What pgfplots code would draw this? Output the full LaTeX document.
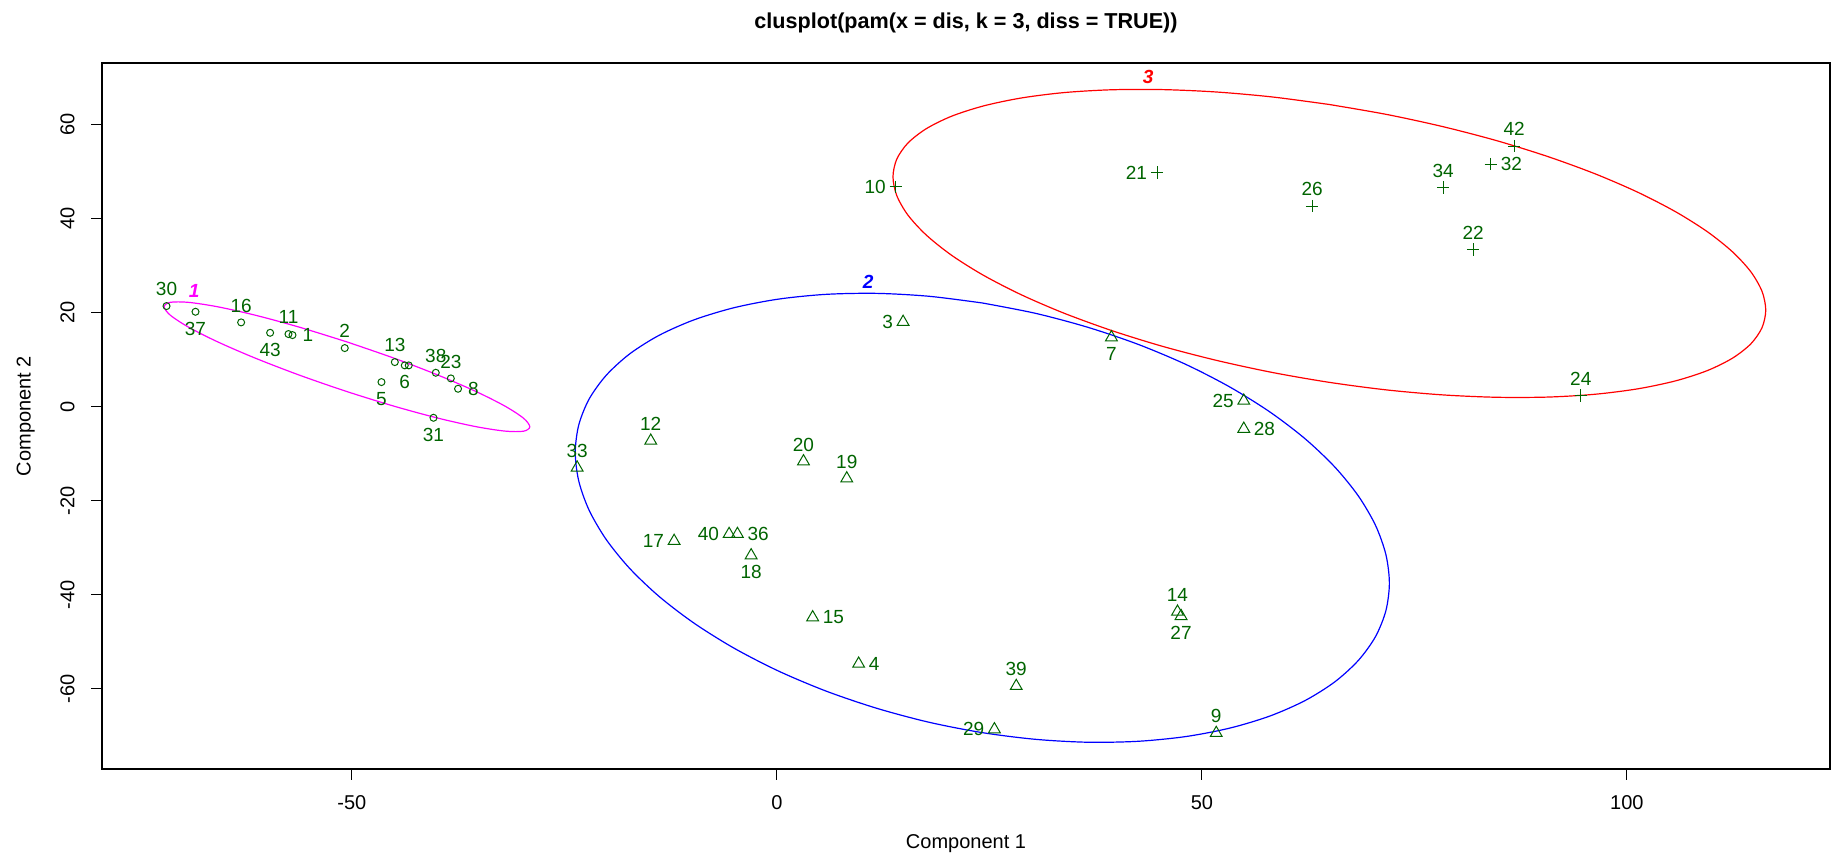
\documentclass[border=0pt]{standalone}
\usepackage{fontspec}
\setmainfont{Liberation Sans}
\usepackage{pgfplots}
\pgfplotsset{compat=1.18}
\definecolor{dkgreen}{HTML}{006400}
\definecolor{mag}{RGB}{255,0,255}
\definecolor{blu}{RGB}{0,0,255}
\definecolor{rd}{RGB}{255,0,0}
\newcommand\labfont{\fontsize{9.5}{11}\selectfont}
\pgfplotsset{
  lab/.style={only marks, dkgreen, mark options={line width=0.5pt},
    nodes near coords, point meta=explicit symbolic,
    every node near coord/.append style={anchor=#1, inner sep=4.8pt, font=\labfont, text=dkgreen}},
  cA/.style={mark=o, mark size=1.75pt},
  cB/.style={mark=triangle, mark size=3.4pt},
  cC/.style={mark=+, mark size=3.1pt},
  cnum/.style={only marks, mark=none, nodes near coords, point meta=explicit symbolic,
    every node near coord/.append style={anchor=center, inner sep=0pt, text=#1, font=\bfseries\itshape\labfont}},
}

\begin{document}
\begin{tikzpicture}
\begin{axis}[
  x=4.25pt, y=2.3515pt,
  xmin=-79.4, xmax=123.9, ymin=-77.1, ymax=73.1,
  axis line style={line width=0.8pt, black},
  tick pos=left, tick align=outside, major tick length=5.3pt,
  tick style={line width=0.6pt, black},
  xtick={-50,0,50,100}, ytick={-60,-40,-20,0,20,40,60},
  /pgf/number format/assume math mode=true,
  tick label style={font=\fontsize{10}{12}\selectfont},
  yticklabel style={xshift=-8.2pt, rotate=90, anchor=south, inner sep=0pt},
  xticklabel style={yshift=-7.8pt, anchor=north, inner sep=0pt},
  title={clusplot(pam(x = dis, k = 3, diss = TRUE))},
  title style={font=\bfseries\fontsize{10.8}{13}\selectfont, at={(axis description cs:0.5,1.0394)}, anchor=center, yshift=0pt},
  xlabel={Component 1}, ylabel={Component 2},
  label style={font=\fontsize{10}{12}\selectfont},
  xlabel style={at={(axis description cs:0.5,-0.1056)}, anchor=center},
  ylabel style={at={(axis description cs:-0.0442,0.5)}, anchor=center},
]
% ellipses
\addplot[mag, line width=0.6pt, smooth, mark=none] coordinates {
(-50.58,13.75) (-56.15,16.87) (-61.34,19.42) (-65.79,21.22) (-69.21,22.16) (-71.36,22.17) (-72.09,21.23) (-71.36,19.43) (-69.21,16.88) (-65.79,13.76) (-61.34,10.28) (-56.15,6.67) (-50.58,3.19) (-45.01,0.07) (-39.82,-2.48) (-35.37,-4.28) (-31.95,-5.22) (-29.80,-5.23) (-29.07,-4.29) (-29.80,-2.49) (-31.95,0.06) (-35.37,3.18) (-39.82,6.66) (-45.01,10.27) (-50.58,13.75)};
\addplot[blu, line width=0.6pt, smooth, mark=none] coordinates {
(24.17,22.03) (17.92,23.45) (11.78,24.07) (5.84,23.87) (0.22,22.86) (-4.98,21.05) (-9.69,18.48) (-13.82,15.19) (-17.30,11.23) (-20.07,6.67) (-22.09,1.60) (-23.31,-3.91) (-23.72,-9.75) (-23.31,-15.83) (-22.09,-22.04) (-20.07,-28.29) (-17.30,-34.45) (-13.82,-40.43) (-9.69,-46.12) (-4.98,-51.43) (0.22,-56.26) (5.84,-60.53) (11.78,-64.17) (17.92,-67.13) (24.17,-69.33) (30.42,-70.75) (36.56,-71.37) (42.50,-71.17) (48.12,-70.16) (53.32,-68.35) (58.03,-65.78) (62.16,-62.49) (65.64,-58.53) (68.41,-53.97) (70.43,-48.90) (71.65,-43.39) (72.06,-37.55) (71.65,-31.47) (70.43,-25.26) (68.41,-19.01) (65.64,-12.85) (62.16,-6.87) (58.03,-1.18) (53.32,4.13) (48.12,8.96) (42.50,13.23) (36.56,16.87) (30.42,19.83) (24.17,22.03)};
\addplot[rd, line width=0.6pt, smooth, mark=none] coordinates {
(65.00,64.23) (58.30,65.83) (51.71,66.89) (45.35,67.40) (39.33,67.36) (33.75,66.76) (28.70,65.60) (24.27,63.91) (20.54,61.73) (17.57,59.08) (15.41,56.03) (14.10,52.60) (13.66,48.86) (14.10,44.88) (15.41,40.73) (17.57,36.48) (20.54,32.19) (24.27,27.95) (28.70,23.82) (33.75,19.88) (39.33,16.20) (45.35,12.82) (51.71,9.83) (58.30,7.25) (65.00,5.15) (71.70,3.55) (78.29,2.49) (84.65,1.98) (90.67,2.02) (96.25,2.62) (101.30,3.78) (105.73,5.47) (109.46,7.65) (112.43,10.30) (114.59,13.35) (115.90,16.78) (116.34,20.52) (115.90,24.50) (114.59,28.65) (112.43,32.90) (109.46,37.19) (105.73,41.43) (101.30,45.56) (96.25,49.50) (90.67,53.18) (84.65,56.56) (78.29,59.55) (71.70,62.13) (65.00,64.23)};

% cluster 1 (circles)
\addplot[lab=south, cA] coordinates {(-71.81,21.37) [30] (-63.03,17.90) [16] (-57.46,15.42) [11] (-50.84,12.44) [2] (-44.95,9.46) [13] (-40.13,7.19) [38] (-38.36,5.99) [23]};
\addplot[lab=north, cA] coordinates {(-68.40,20.16) [37] (-59.62,15.69) [43] (-43.78,8.76) [6] (-46.52,5.21) [5] (-40.40,-2.38) [31]};
\addplot[lab=west, cA] coordinates {(-56.99,15.20) [1] (-37.51,3.79) [8]};
\addplot[only marks, dkgreen, mark options={line width=0.5pt}, cA] coordinates {(-43.31,8.76)};

% cluster 2 (triangles)
\addplot[lab=east, cB] coordinates {(14.85,17.99) [3] (-12.09,-28.58) [17] (-5.62,-27.11) [40] (25.59,-68.64) [29] (54.93,1.23) [25]};
\addplot[lab=south, cB] coordinates {(-14.84,-7.27) [12] (-23.50,-12.99) [33] (3.13,-11.66) [20] (8.22,-15.29) [19] (28.16,-59.43) [39] (51.69,-69.42) [9] (47.13,-43.63) [14]};
\addplot[lab=north, cB] coordinates {(-3.03,-31.64) [18] (47.55,-44.55) [27] (39.36,14.71) [7]};
\addplot[lab=west, cB] coordinates {(-4.64,-27.11) [36] (4.21,-44.82) [15] (9.62,-54.69) [4] (54.93,-4.74) [28]};

% cluster 3 (plus)
\addplot[lab=east, cC] coordinates {(13.99,46.74) [10] (44.73,49.80) [21]};
\addplot[lab=south, cC] coordinates {(62.97,42.63) [26] (78.38,46.60) [34] (86.73,55.39) [42] (81.91,33.43) [22] (94.58,2.38) [24]};
\addplot[lab=west, cC] coordinates {(83.99,51.56) [32]};

% cluster numbers
\addplot[cnum=mag] coordinates {(-68.56,24.62) [1]};
\addplot[cnum=blu] coordinates {(10.73,26.54) [2]};
\addplot[cnum=rd] coordinates {(43.67,70.13) [3]};
\end{axis}
\pgfresetboundingbox
\path ([xshift=-51pt,yshift=-46.5pt]current axis.south west) rectangle ([xshift=3.5pt,yshift=31.4pt]current axis.north east);
\end{tikzpicture}
\end{document}
